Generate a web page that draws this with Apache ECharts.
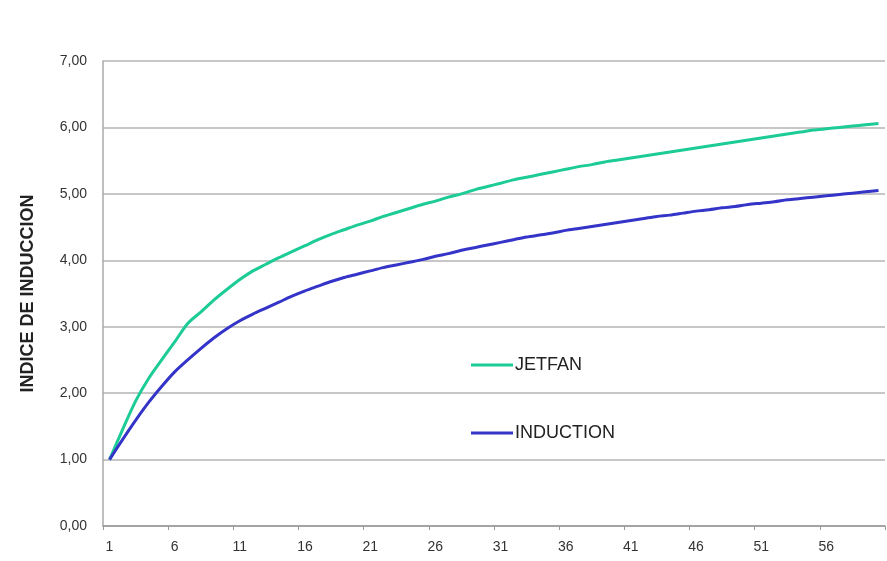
<!DOCTYPE html>
<html>
<head>
<meta charset="utf-8">
<script src="https://cdn.jsdelivr.net/npm/echarts@6/dist/echarts.min.js"></script>
<style>html,body{margin:0;padding:0;background:#fff}#c{width:887px;height:561px}</style>
</head>
<body>
<div id="c"></div>
<script>
var categories = [];
for (var i = 1; i <= 60; i++) categories.push(String(i));

var jetfan = [1.00,1.45,1.88,2.22,2.50,2.77,3.05,3.22,3.40,3.56,
  3.71,3.84,3.94,4.04,4.13,4.22,4.31,4.39,4.46,4.53,
  4.59,4.66,4.72,4.78,4.84,4.89,4.95,5.00,5.06,5.11,
  5.16,5.21,5.25,5.29,5.33,5.37,5.41,5.44,5.48,5.51,
  5.54,5.57,5.60,5.63,5.66,5.69,5.72,5.75,5.78,5.81,
  5.84,5.87,5.90,5.93,5.96,5.98,6.00,6.02,6.04,6.06];

var induction = [1.00,1.30,1.59,1.86,2.10,2.32,2.50,2.67,2.83,2.97,
  3.09,3.19,3.28,3.37,3.46,3.54,3.61,3.68,3.74,3.79,
  3.84,3.89,3.93,3.97,4.01,4.06,4.10,4.15,4.19,4.23,
  4.27,4.31,4.35,4.38,4.41,4.45,4.48,4.51,4.54,4.57,
  4.60,4.63,4.66,4.68,4.71,4.74,4.76,4.79,4.81,4.84,
  4.86,4.88,4.91,4.93,4.95,4.97,4.99,5.01,5.03,5.05];

var seriesNames = ['JETFAN', 'INDUCTION'];
var yAxisName = 'INDICE DE INDUCCION';

var chart = echarts.init(document.getElementById('c'), null, {renderer: 'canvas'});
var font = 'Liberation Sans, Arial, sans-serif';
chart.setOption({
  backgroundColor: '#fff',
  animation: false,
  grid: {left: 103, right: 2, top: 61, bottom: 35, containLabel: false},
  legend: {
    orient: 'vertical',
    left: 466,
    top: 350,
    itemGap: 48,
    itemWidth: 42,
    itemHeight: 3,
    icon: 'rect',
    data: seriesNames,
    textStyle: {fontFamily: font, fontSize: 18, lineHeight: 20, color: '#222', padding: [0, 0, 0, -3]}
  },
  xAxis: {
    type: 'category',
    data: categories,
    boundaryGap: true,
    axisLine: {lineStyle: {color: '#999', width: 1.5}},
    axisTick: {show: true, interval: 4, length: 4, lineStyle: {color: '#999'}},
    axisLabel: {interval: 4, margin: 14, fontFamily: font, fontSize: 14, color: '#333'},
    splitLine: {show: false}
  },
  yAxis: {
    type: 'value',
    min: 0, max: 7, interval: 1,
    name: yAxisName,
    nameLocation: 'middle',
    nameGap: 66,
    nameTextStyle: {fontFamily: font, fontSize: 18, fontWeight: 'bold', color: '#222'},
    axisLine: {show: true, lineStyle: {color: '#aaa', width: 1.5}},
    axisTick: {show: false},
    axisLabel: {margin: 16, fontFamily: font, fontSize: 14, color: '#333',
      formatter: function (v) { return v.toFixed(2).replace('.', ','); }},
    splitLine: {show: true, lineStyle: {color: '#b4b4b4', width: 1.5}}
  },
  series: [
    {name: seriesNames[0], type: 'line', data: jetfan, smooth: 0.3, showSymbol: false,
      lineStyle: {color: '#1ccb95', width: 3}, itemStyle: {color: '#1ccb95'}},
    {name: seriesNames[1], type: 'line', data: induction, smooth: 0.3, showSymbol: false,
      lineStyle: {color: '#3434c8', width: 3}, itemStyle: {color: '#3434c8'}}
  ]
});
</script>
</body>
</html>
